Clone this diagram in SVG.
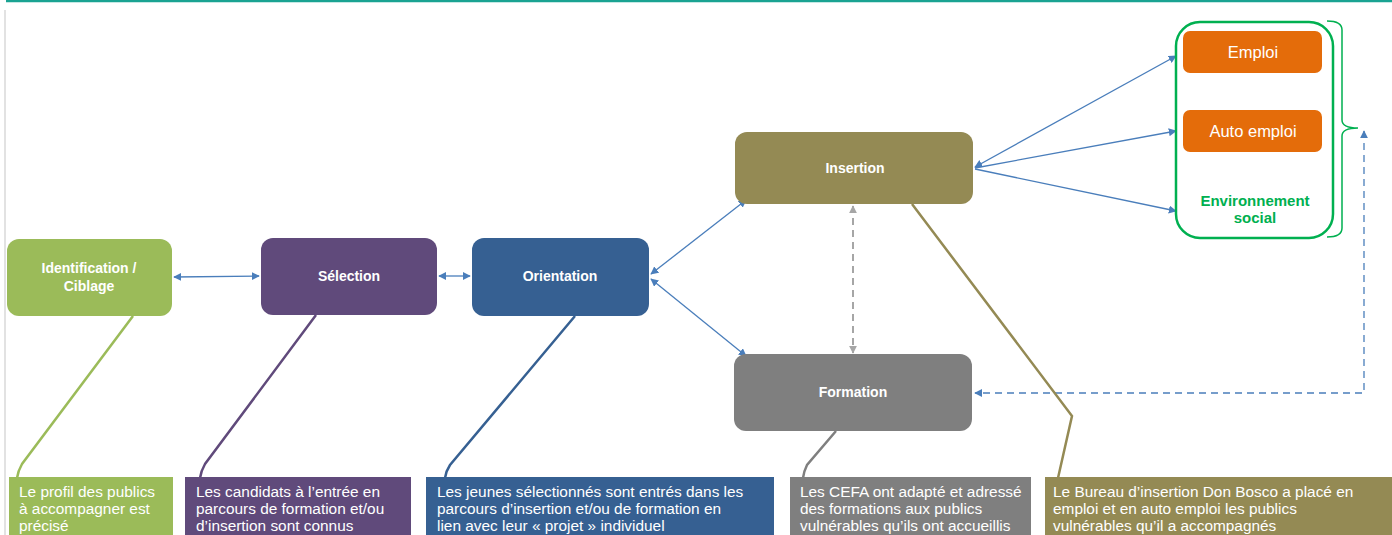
<svg xmlns="http://www.w3.org/2000/svg" width="1392" height="535" viewBox="0 0 1392 535">
<style>
.node text{font-family:"Liberation Sans",Arial,sans-serif;fill:#fff;text-anchor:middle}
.nt{font-size:14px;font-weight:bold}
.ot{font-size:16.5px}
.bt{font-family:"Liberation Sans",Arial,sans-serif;font-size:15.4px;fill:#fff}
.conn{fill:none;stroke:#4a7ebb;stroke-width:1.3}
.call{fill:none;stroke-width:2.5}
</style>
<defs>
<marker id="ah" viewBox="0 0 10 10" refX="9" refY="5" markerWidth="8" markerHeight="8" markerUnits="userSpaceOnUse" orient="auto-start-reverse">
<path d="M0,0 L10,5 L0,10 z" fill="#4a7ebb"/>
</marker>
<marker id="ahg" viewBox="0 0 10 10" refX="9" refY="5" markerWidth="8" markerHeight="8" markerUnits="userSpaceOnUse" orient="auto-start-reverse">
<path d="M0,0 L10,5 L0,10 z" fill="#a6a6a6"/>
</marker>
</defs>
<rect width="1392" height="535" fill="#fff"/>
<line x1="6" y1="1" x2="1392" y2="1" stroke="#1aa392" stroke-width="2.5"/>
<line x1="5" y1="10" x2="5" y2="535" stroke="#d9d9d9" stroke-width="1.5"/>

<g id="connectors">
<line class="conn" x1="174" y1="277" x2="259" y2="276" marker-start="url(#ah)" marker-end="url(#ah)"/>
<line class="conn" x1="439" y1="276" x2="470" y2="276" marker-start="url(#ah)" marker-end="url(#ah)"/>
<line class="conn" x1="651" y1="274" x2="746" y2="200" marker-start="url(#ah)" marker-end="url(#ah)" stroke-width="1.8"/>
<line class="conn" x1="651" y1="279" x2="746" y2="356" marker-start="url(#ah)" marker-end="url(#ah)" stroke-width="1.8"/>
<line class="conn" x1="975" y1="167" x2="1176" y2="56" marker-start="url(#ah)" marker-end="url(#ah)"/>
<line class="conn" x1="975" y1="168" x2="1176" y2="131" marker-end="url(#ah)"/>
<line class="conn" x1="975" y1="169" x2="1176" y2="211" marker-end="url(#ah)"/>
<line x1="853" y1="206" x2="853" y2="353" stroke="#a6a6a6" stroke-width="2" stroke-dasharray="7,5" marker-start="url(#ahg)" marker-end="url(#ahg)"/>
<path class="conn" d="M1364,131 L1364,393 L975,393" stroke-width="1.8" stroke-dasharray="7,5" marker-start="url(#ah)" marker-end="url(#ah)"/>
<path class="call" stroke="#9bbb59" d="M133,316 L22,464 Q18,471 17,478"/>
<path class="call" stroke="#604a7b" d="M316,315 L205,464 Q201,471 200,478"/>
<path class="call" stroke="#366092" d="M575,316 L450,465 Q446,471 445,478"/>
<path class="call" stroke="#7f7f7f" d="M836,431 L807,465 Q804,471 803,478"/>
<path class="call" stroke="#948a54" d="M912,204 L1072,416 L1058,478"/>
</g>

<g id="identification" class="node">
<rect x="7" y="239" width="165" height="77" rx="12" fill="#9bbb59"/>
<text class="nt" x="89" y="273">Identification /</text>
<text class="nt" x="89" y="291">Ciblage</text>
</g>
<g id="selection" class="node">
<rect x="261" y="238" width="176" height="77" rx="12" fill="#604a7b"/>
<text class="nt" x="349" y="281">Sélection</text>
</g>
<g id="orientation" class="node">
<rect x="472" y="238" width="177" height="78" rx="12" fill="#366092"/>
<text class="nt" x="560" y="281">Orientation</text>
</g>
<g id="insertion" class="node">
<rect x="735" y="132" width="238" height="72" rx="12" fill="#948a54"/>
<text class="nt" x="855" y="173">Insertion</text>
</g>
<g id="formation" class="node">
<rect x="734" y="354" width="238" height="77" rx="12" fill="#7f7f7f"/>
<text class="nt" x="853" y="397">Formation</text>
</g>
<g id="resultats" class="node">
<rect x="1176" y="22" width="157" height="216" rx="24" fill="#fff" stroke="#00b050" stroke-width="2.5"/>
<path d="M1327,21 Q1342,21 1342,30 L1342,120 Q1342,128 1358,128 Q1342,128 1342,136 L1342,228 Q1342,237 1327,237" fill="none" stroke="#00b050" stroke-width="1.5"/>
<text x="1255" y="206" style="fill:#00b050;font-size:15px;font-weight:bold">Environnement</text>
<text x="1255" y="223" style="fill:#00b050;font-size:15px;font-weight:bold">social</text>
</g>
<g id="emploi" class="node">
<rect x="1183" y="31" width="139" height="42" rx="7" fill="#e46c0a"/>
<text class="ot" x="1253" y="58">Emploi</text>
</g>
<g id="autoemploi" class="node">
<rect x="1183" y="110" width="139" height="42" rx="7" fill="#e46c0a"/>
<text class="ot" x="1253" y="137">Auto emploi</text>
</g>

<g id="note-identification">
<rect x="9" y="477" width="164" height="58" fill="#9bbb59"/>
<text class="bt" x="19" y="497">Le profil des publics</text>
<text class="bt" x="19" y="514">à accompagner est</text>
<text class="bt" x="19" y="531">précisé</text>
</g>
<g id="note-selection">
<rect x="185" y="477" width="226" height="58" fill="#604a7b"/>
<text class="bt" x="196" y="497">Les candidats à l’entrée en</text>
<text class="bt" x="196" y="514">parcours de formation et/ou</text>
<text class="bt" x="196" y="531">d’insertion sont connus</text>
</g>
<g id="note-orientation">
<rect x="426" y="477" width="348" height="58" fill="#366092"/>
<text class="bt" x="437" y="497">Les jeunes sélectionnés sont entrés dans les</text>
<text class="bt" x="437" y="514">parcours d’insertion et/ou de formation en</text>
<text class="bt" x="437" y="531">lien avec leur « projet » individuel</text>
</g>
<g id="note-formation">
<rect x="790" y="477" width="241" height="58" fill="#7f7f7f"/>
<text class="bt" x="800" y="497">Les CEFA ont adapté et adressé</text>
<text class="bt" x="800" y="514">des formations aux publics</text>
<text class="bt" x="800" y="531">vulnérables qu’ils ont accueillis</text>
</g>
<g id="note-insertion">
<rect x="1045" y="477" width="347" height="58" fill="#948a54"/>
<text class="bt" x="1053" y="497">Le Bureau d’insertion Don Bosco a placé en</text>
<text class="bt" x="1053" y="514">emploi et en auto emploi les publics</text>
<text class="bt" x="1053" y="531">vulnérables qu’il a accompagnés</text>
</g>
</svg>
